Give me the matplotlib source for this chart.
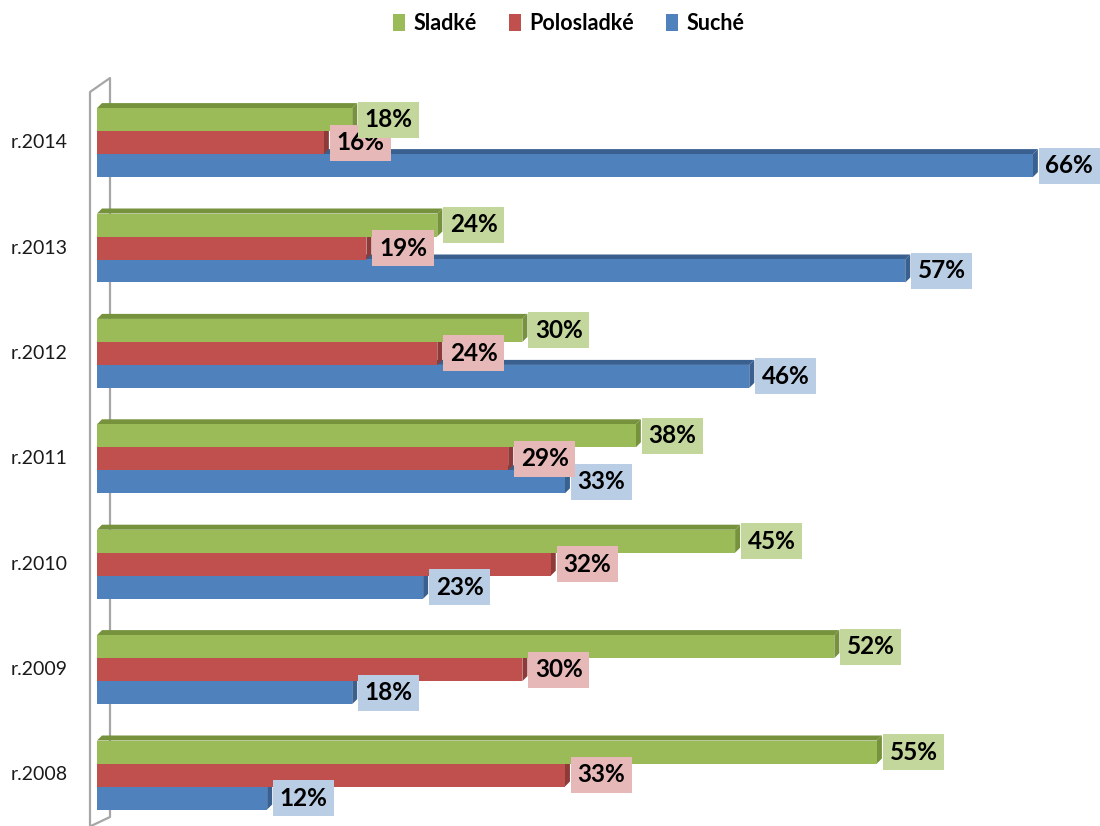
import matplotlib
matplotlib.use("Agg")
import matplotlib.pyplot as plt
from matplotlib.patches import Polygon, Patch
from matplotlib.lines import Line2D

plt.rcParams['font.family'] = ['Lato', 'DejaVu Sans']

# Data
years = ["r.2008", "r.2009", "r.2010", "r.2011", "r.2012", "r.2013", "r.2014"]
sladke = [55, 52, 45, 38, 30, 24, 18]
polosladke = [33, 30, 32, 29, 24, 19, 16]
suche = [12, 18, 23, 33, 46, 57, 66]
series_names = ["Sladké", "Polosladké", "Suché"]

# Styling: front face, darker side/top face, label box colour
front = {"Sladké": "#9BBB59", "Polosladké": "#C0504D", "Suché": "#4F81BD"}
shade = {"Sladké": "#76923C", "Polosladké": "#8E3A38", "Suché": "#3A6090"}
boxc = {"Sladké": "#C3D69B", "Polosladké": "#E6B9B8", "Suché": "#B9CDE5"}

W, H = 1100, 826
fig = plt.figure(figsize=(W / 100, H / 100), dpi=100)
fig.patch.set_facecolor("white")

px_per_pct = 14.18
px_per_cat = 105.4
x0_px = 97
ax = fig.add_axes([x0_px / W, 0, 1 - x0_px / W, 1])
xmax = (W - x0_px) / px_per_pct
ax.set_xlim(0, xmax)
ref_center_px = 775.0  # centre of the middle bar in the lowest group (pixels from top)
ylo = (ref_center_px - H) / px_per_cat
yhi = ref_center_px / px_per_cat
ax.set_ylim(ylo, yhi)
ax.axis("off")

bar_h = 23 / px_per_cat
dx = 5 / px_per_pct
dy = 5 / px_per_cat


def px_to_data(px, py):
    return (px - x0_px) / px_per_pct, (ref_center_px - py) / px_per_cat


# Back wall edge of the 3D box
wall = [(90, 826), (90, 92), (110, 78), (110, 817), (91, 826)]
xs, ys = zip(*[px_to_data(*p) for p in wall])
ax.add_line(Line2D(xs, ys, color="#A6A6A6", lw=1.6, zorder=1, clip_on=False))

offsets = {"Sladké": bar_h, "Polosladké": 0.0, "Suché": -bar_h}
values = {"Sladké": sladke, "Polosladké": polosladke, "Suché": suche}

# Draw bars bottom series first so upper front faces cover lower top faces
z = 2
for name in ["Suché", "Polosladké", "Sladké"]:
    vals = values[name]
    for i, v in enumerate(vals):
        c = i + offsets[name]
        top = c + bar_h / 2
        bot = c - bar_h / 2
        ax.barh(c, v, height=bar_h, color=front[name], edgecolor="none", zorder=z + 0.2)
        ax.add_patch(Polygon([(0, top), (dx, top + dy), (v + dx, top + dy), (v, top)],
                             closed=True, fc=shade[name], ec="none", zorder=z))
        ax.add_patch(Polygon([(v, bot), (v, top), (v + dx, top + dy), (v + dx, bot + dy)],
                             closed=True, fc=shade[name], ec="none", zorder=z + 0.1))
    z += 1

# Value labels in coloured boxes
label_size = 17.5
pad = 0.27
pad_px = pad * label_size * 100 / 72
lz = {"Suché": 10, "Polosladké": 11, "Sladké": 12}
for name in series_names:
    for i, v in enumerate(values[name]):
        c = i + offsets[name]
        ax.annotate(f"{v}%", xy=(v + dx, c), xytext=(1 + pad_px, 0), textcoords="offset pixels",
                    ha="left", va="center", fontsize=label_size, fontweight="bold", color="black",
                    bbox=dict(boxstyle=f"square,pad={pad}", fc=boxc[name], ec="none"),
                    zorder=lz[name], annotation_clip=False)

# Category labels
for i, lab in enumerate(years):
    x, _ = px_to_data(68, 0)
    ax.text(x, i, lab, ha="right", va="center", fontsize=14, color="#1a1a1a", clip_on=False)

# Legend
handles = [Patch(facecolor=front[n], edgecolor="none", label=n) for n in series_names]
fig.legend(handles=handles, loc="center", bbox_to_anchor=(0.517, 0.972), ncol=3, frameon=False,
           prop={"weight": "bold", "size": 15.5}, handlelength=0.55, handleheight=0.85,
           handletextpad=0.4, columnspacing=1.5)

fig.savefig("out.png", dpi=100, facecolor="white")
